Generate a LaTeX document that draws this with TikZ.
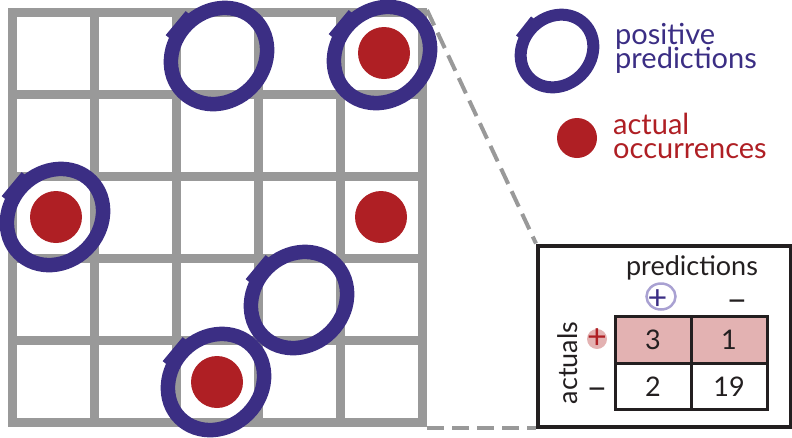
\documentclass[tikz,border=0pt]{standalone}
\usepackage{fontspec}
\setmainfont{Lato}
\usetikzlibrary{shapes.geometric}
\definecolor{ringblue}{HTML}{3B2E84}
\definecolor{dotred}{HTML}{AF1F24}
\definecolor{gridgray}{HTML}{999999}
\definecolor{pinkfill}{HTML}{E3B2B2}
\definecolor{lav}{HTML}{A9A1D2}
\definecolor{ink}{HTML}{231F20}
\tikzset{
  gridline/.style={draw=gridgray, line width=9pt, line cap=rect},
  dot/.style={circle, fill=dotred, inner sep=0pt, minimum size=52pt},
  smalldot/.style={circle, fill=dotred, inner sep=0pt, minimum size=40pt},
  ring/.pic={
    \draw[ringblue, line width=14.5pt, rotate=45] (0,0) ellipse [x radius=51, y radius=45];
    \draw[ringblue, line width=6pt] (-51,-19) -- (-31,-43);
  },
  smallring/.pic={
    \draw[ringblue, line width=12pt, rotate=45] (0,0) ellipse [x radius=38.5, y radius=34];
    \draw[ringblue, line width=5pt] (-39,-14) -- (-24,-33);
  },
  dashline/.style={draw=gridgray, line width=4pt, dash pattern=on 17pt off 8pt},
  cell/.style={draw=ink, line width=3pt, minimum width=76pt, minimum height=46.5pt, inner sep=0pt,
    font=\fontsize{27}{30}\selectfont, text=ink},
  legtext/.style={anchor=base west, inner sep=0pt, font=\fontsize{29}{30}\selectfont},
  tabtext/.style={inner sep=0pt, font=\fontsize{27}{30}\selectfont, text=ink},
  signtext/.style={inner sep=0pt, font=\fontsize{34}{36}\selectfont, text=ink},
}
\begin{document}
\begin{tikzpicture}[x=1pt, y=-1pt]
\useasboundingbox (0,0) rectangle (792,437);
% grid
\foreach \i in {0,...,5} {
  \draw[gridline] (12.5+82*\i,12.5) -- (12.5+82*\i,422.5);
  \draw[gridline] (12.5,12.5+82*\i) -- (422.5,12.5+82*\i);
}
\coordinate (gridTR) at (427,10);
\coordinate (gridBR) at (427,427.5);
% actual occurrences
\node[dot] (d1) at (384,53) {};
\node[dot] (d2) at (56,217) {};
\node[dot] (d3) at (381,217) {};
\node[dot] (d4) at (217,382) {};
% positive predictions
\pic (r1) at (219,56) {ring};
\pic (r2) at (382,55) {ring};
\pic (r3) at (55,217) {ring};
\pic (r4) at (299,300) {ring};
\pic (r5) at (216,382) {ring};
% legend
\pic (lr) at (557,51) {smallring};
\node[smalldot] (ld) at (577,138) {};
\node[legtext, text=ringblue] (lp1) at (615,44) {positive};
\node[legtext, text=ringblue] (lp2) at (615,68) {predictions};
\node[legtext, text=dotred] (la1) at (613,134.5) {actual};
\node[legtext, text=dotred] (la2) at (613,158) {occurrences};
% zoom box
\node[draw=ink, line width=4pt, minimum width=253pt, minimum height=181pt, inner sep=0pt, anchor=north west] (box) at (536,243.5) {};
\draw[dashline] (gridTR) -- (box.north west);
\draw[dashline] (gridBR) -- (gridBR -| box.west);
% table
\node[cell, fill=pinkfill] (c11) at (653,340) {3};
\node[cell, fill=pinkfill] (c12) at (729,340) {1};
\node[cell] (c21) at (653,386.5) {2};
\node[cell] (c22) at (729,386.5) {19};
\node[tabtext, anchor=base] (ph) at (692,275) {predictions};
\node[ellipse, draw=lav, line width=2.5pt, minimum width=29pt, minimum height=26pt, inner sep=0pt] (pring) at (661,296.5) {};
\node[signtext, text=ringblue] (pplus) at (657.5,300) {+};
\node[signtext] (pminus) at (737,306) {−};
\node[circle, fill=pinkfill, minimum size=20pt, inner sep=0pt] (aring) at (597,339) {};
\node[signtext, text=dotred] (aplus) at (597,339) {+};
\node[signtext] (aminus) at (597,394) {−};
\node[tabtext, rotate=90, anchor=base] (act) at (577,363) {actuals};
\end{tikzpicture}
\end{document}
